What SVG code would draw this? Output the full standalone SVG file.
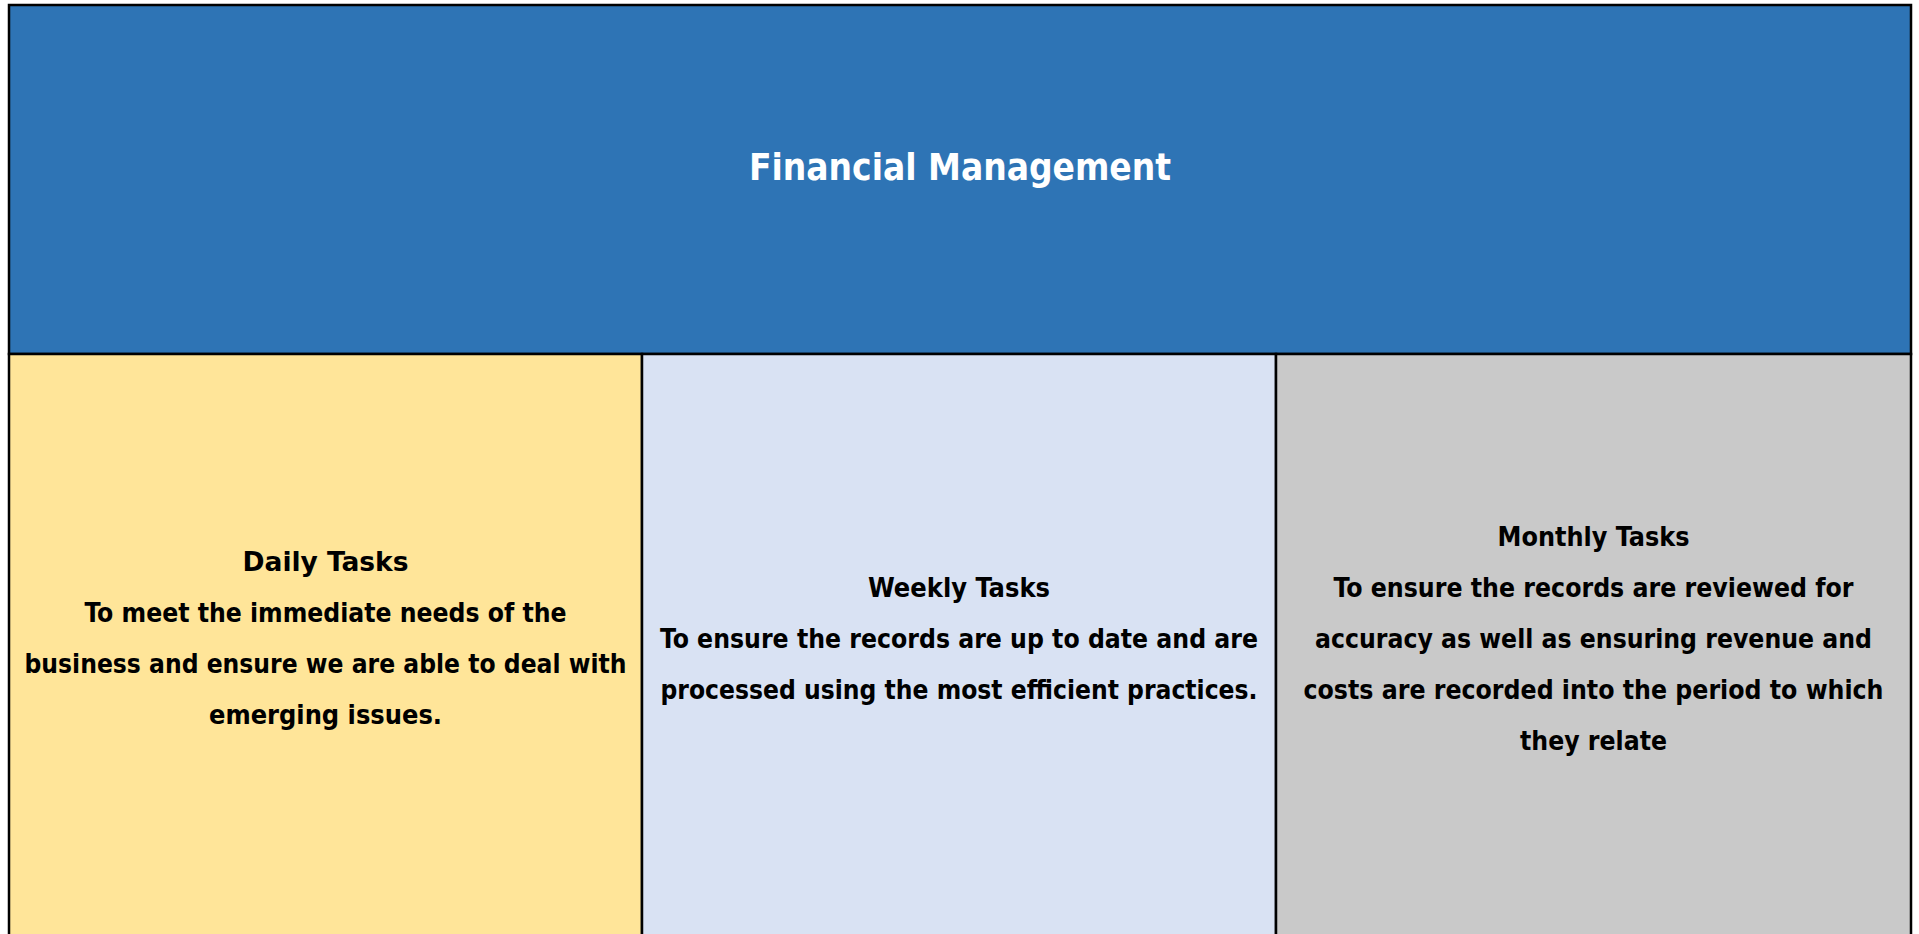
<svg xmlns="http://www.w3.org/2000/svg" width="1919" height="934" viewBox="0 0 1919 934">
  <style>
    .box { stroke: #000000; stroke-width: 2.5; }
    .head { fill: #2E74B5; }
    .daily { fill: #FFE599; }
    .weekly { fill: #D9E2F3; }
    .monthly { fill: #C9C9C9; }
    text { font-family: "DejaVu Sans Condensed", "DejaVu Sans", "Liberation Sans", sans-serif; font-weight: bold; text-anchor: middle; }
    .title { font-size: 38px; fill: #FFFFFF; }
    .body { font-size: 26.5px; fill: #000000; }
  </style>
  <rect width="1919" height="934" fill="#FFFFFF"/>

  <g id="header">
    <rect class="box head" x="9" y="5" width="1902" height="349"/>
    <text class="title" x="960" y="180" textLength="422" lengthAdjust="spacingAndGlyphs">Financial Management</text>
  </g>

  <g id="daily">
    <rect class="box daily" x="9" y="354" width="633" height="600"/>
    <text class="body" x="325.5" y="571" textLength="166" lengthAdjust="spacingAndGlyphs">Daily Tasks</text>
    <text class="body" x="325.5" y="622" textLength="482" lengthAdjust="spacingAndGlyphs">To meet the immediate needs of the</text>
    <text class="body" x="325.5" y="673" textLength="602" lengthAdjust="spacingAndGlyphs">business and ensure we are able to deal with</text>
    <text class="body" x="325.5" y="724" textLength="233" lengthAdjust="spacingAndGlyphs">emerging issues.</text>
  </g>

  <g id="weekly">
    <rect class="box weekly" x="642" y="354" width="634" height="600"/>
    <text class="body" x="959" y="596.5" textLength="182" lengthAdjust="spacingAndGlyphs">Weekly Tasks</text>
    <text class="body" x="959" y="647.5" textLength="598" lengthAdjust="spacingAndGlyphs">To ensure the records are up to date and are</text>
    <text class="body" x="959" y="698.5" textLength="597" lengthAdjust="spacingAndGlyphs">processed using the most efficient practices.</text>
  </g>

  <g id="monthly">
    <rect class="box monthly" x="1276" y="354" width="635" height="600"/>
    <text class="body" x="1593.5" y="545.5" textLength="192" lengthAdjust="spacingAndGlyphs">Monthly Tasks</text>
    <text class="body" x="1593.5" y="596.5" textLength="520" lengthAdjust="spacingAndGlyphs">To ensure the records are reviewed for</text>
    <text class="body" x="1593.5" y="647.5" textLength="557" lengthAdjust="spacingAndGlyphs">accuracy as well as ensuring revenue and</text>
    <text class="body" x="1593.5" y="698.5" textLength="580" lengthAdjust="spacingAndGlyphs">costs are recorded into the period to which</text>
    <text class="body" x="1593.5" y="749.5" textLength="147" lengthAdjust="spacingAndGlyphs">they relate</text>
  </g>

  <g id="connectors"/>
</svg>
